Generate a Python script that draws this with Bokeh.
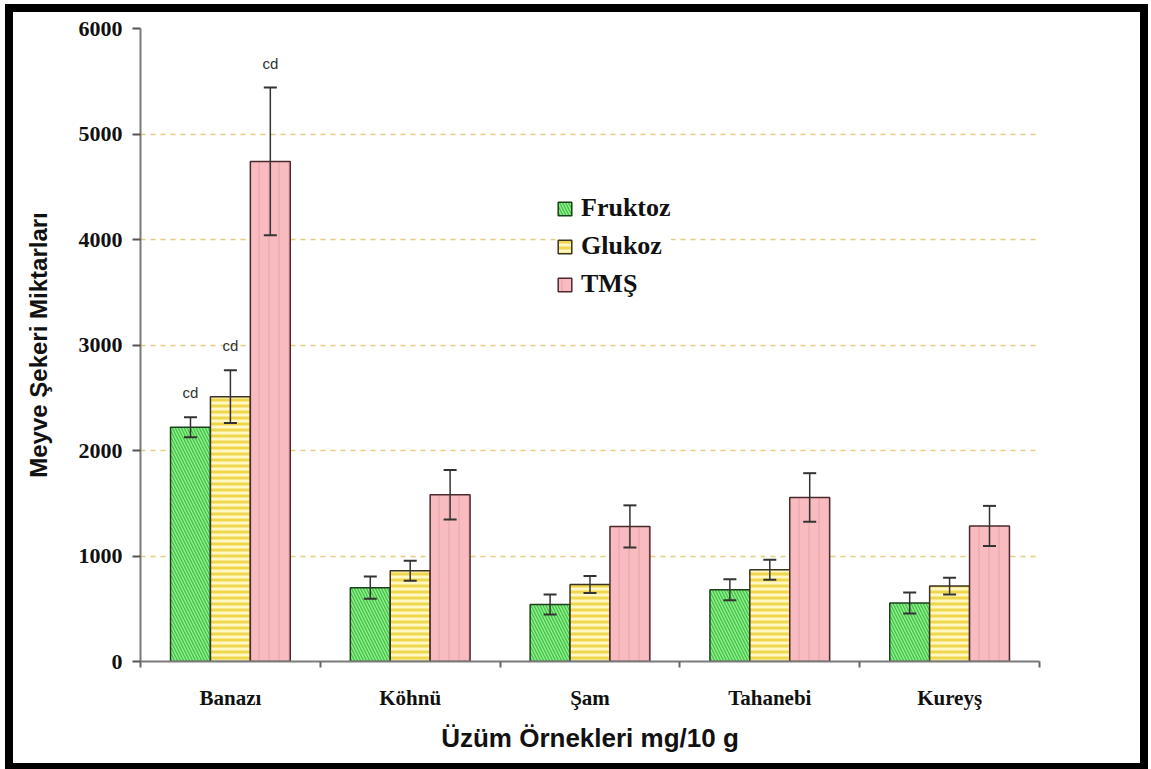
from bokeh.plotting import figure
from bokeh.models import (Range1d, LinearAxis, FixedTicker,
                          Whisker, TeeHead, ColumnDataSource, Legend, LegendItem, Grid)
from bokeh.transform import dodge
from bokeh.core.properties import value
from bokeh.embed import file_html
from bokeh.resources import INLINE

# ---- data ----
categories = ["Banazı", "Köhnü", "Şam", "Tahanebi", "Kureyş"]
series = ["Fruktoz", "Glukoz", "TMŞ"]
fruktoz = [2220, 700, 540, 680, 555]
fruktoz_err = [95, 105, 95, 100, 100]
glukoz = [2510, 860, 730, 870, 715]
glukoz_err = [250, 95, 80, 95, 80]
tms = [4740, 1580, 1280, 1555, 1285]
tms_err = [700, 235, 200, 230, 190]
letter_cat = ["Banazı", "Banazı", "Banazı"]
letter_series = ["Fruktoz", "Glukoz", "TMŞ"]
letter_text = ["cd", "cd", "cd"]
y_ticks = [0, 1000, 2000, 3000, 4000, 5000, 6000]

n = len(categories)
centers = [i + 0.5 for i in range(n)]
BAR_W = 0.222
offsets = {"Fruktoz": -BAR_W, "Glukoz": 0.0, "TMŞ": BAR_W}
styles = {
    "Fruktoz": dict(fill_color="#8ef08e", hatch_pattern="left_diagonal_line", hatch_color="#44c044",
                    hatch_scale=6, hatch_weight=1.3, line_color="#1c3f1c"),
    "Glukoz": dict(fill_color="#fff8c4", hatch_pattern="horizontal_line", hatch_color="#f0d64c",
                   hatch_scale=6, hatch_weight=3, line_color="#3a3320"),
    "TMŞ": dict(fill_color="#f8bcc0", hatch_pattern="vertical_line", hatch_color="#efaab0",
                hatch_scale=10, hatch_weight=1.5, line_color="#4a2a2c"),
}
values = {"Fruktoz": (fruktoz, fruktoz_err), "Glukoz": (glukoz, glukoz_err), "TMŞ": (tms, tms_err)}

p = figure(x_range=Range1d(0, n), y_range=Range1d(0, 6000),
           width=1127, height=751, output_backend="svg", toolbar_location=None,
           x_axis_location=None, y_axis_location=None,
           min_border_left=127, min_border_right=117, min_border_top=16, min_border_bottom=118)
p.center = []
p.outline_line_color = None
p.background_fill_color = "white"
p.border_fill_color = "white"
p.styles = {"border": "8px solid black", "margin-left": "5px", "margin-top": "4px",
            "box-sizing": "content-box"}

# grid
grid = Grid(dimension=1, ticker=FixedTicker(ticks=y_ticks[1:]), grid_line_color="#d9b84a",
            grid_line_alpha=0.7, grid_line_dash="5 5", grid_line_width=1.5)
p.add_layout(grid, "center")

# y axis
yaxis = LinearAxis(ticker=FixedTicker(ticks=y_ticks), axis_label="Meyve Şekeri Miktarları")
yaxis.axis_line_color = "#7a7a7a"
yaxis.axis_line_width = 2
yaxis.major_tick_line_color = "#555555"
yaxis.major_tick_line_width = 2
yaxis.major_tick_out = 8
yaxis.major_tick_in = 0
yaxis.minor_tick_line_color = None
yaxis.major_label_text_font = "Liberation Serif"
yaxis.major_label_text_font_style = "bold"
yaxis.major_label_text_font_size = "22px"
yaxis.major_label_text_color = "#111111"
yaxis.major_label_standoff = 10
yaxis.axis_label_text_font = "Liberation Sans"
yaxis.axis_label_text_font_style = "bold"
yaxis.axis_label_text_font_size = "24px"
yaxis.axis_label_text_color = "#111111"
yaxis.axis_label_standoff = 24
p.add_layout(yaxis, "left")

# x boundary tick axis
bnd_ticks = list(range(n + 1))
bnd_axis = LinearAxis(ticker=FixedTicker(ticks=bnd_ticks),
                      major_label_overrides={t: "" for t in bnd_ticks})
bnd_axis.axis_line_color = "#7a7a7a"
bnd_axis.axis_line_width = 2
bnd_axis.major_tick_line_color = "#666666"
bnd_axis.major_tick_line_width = 2
bnd_axis.major_tick_out = 6
bnd_axis.major_tick_in = 0
bnd_axis.minor_tick_line_color = None
bnd_axis.major_label_text_font_size = "1px"
bnd_axis.major_label_standoff = 0
p.add_layout(bnd_axis, "below")

# category label axis
cat_axis = LinearAxis(ticker=FixedTicker(ticks=centers), axis_label="Üzüm Örnekleri mg/10 g",
                      major_label_overrides={c: name for c, name in zip(centers, categories)})
cat_axis.axis_line_color = None
cat_axis.major_tick_line_color = None
cat_axis.minor_tick_line_color = None
cat_axis.major_label_text_font = "Liberation Serif"
cat_axis.major_label_text_font_style = "bold"
cat_axis.major_label_text_font_size = "21px"
cat_axis.major_label_text_color = "#111111"
cat_axis.major_label_standoff = 12
cat_axis.axis_label_text_font = "Liberation Sans"
cat_axis.axis_label_text_font_style = "bold"
cat_axis.axis_label_text_font_size = "26px"
cat_axis.axis_label_text_color = "#111111"
cat_axis.axis_label_standoff = 10
p.add_layout(cat_axis, "below")

items = []
for s in series:
    vals, errs = values[s]
    src = ColumnDataSource(dict(pos=centers, val=vals,
                                upper=[v + e for v, e in zip(vals, errs)],
                                lower=[v - e for v, e in zip(vals, errs)]))
    r = p.vbar(x=dodge("pos", offsets[s]), top="val", width=BAR_W, source=src,
               line_width=1.5, **styles[s])
    items.append(LegendItem(label=s, renderers=[r]))
    w = Whisker(base=dodge("pos", offsets[s]), upper="upper", lower="lower",
                source=src, line_color="#333333", line_width=1.5, level="annotation",
                upper_head=TeeHead(size=13, line_color="#333333", line_width=2),
                lower_head=TeeHead(size=13, line_color="#333333", line_width=2))
    p.add_layout(w)

# significance letters
for s in series:
    idx = [k for k, ss in enumerate(letter_series) if ss == s]
    if not idx:
        continue
    vals, errs = values[s]
    ci = [categories.index(letter_cat[k]) for k in idx]
    sub = ColumnDataSource(dict(pos=[centers[i] for i in ci], top=[vals[i] + errs[i] for i in ci],
                                txt=[letter_text[k] for k in idx]))
    p.text(x=dodge("pos", offsets[s]), y="top", text="txt", source=sub,
           text_font=value("Liberation Sans"), text_font_size="15px", text_color="#333333",
           text_align="center", text_baseline="bottom", y_offset=-16)

legend = Legend(items=items, location=(416, 362))
legend.label_text_font = "Liberation Serif"
legend.label_text_font_style = "bold"
legend.label_text_font_size = "26px"
legend.label_text_color = "#111111"
legend.glyph_width = 17
legend.glyph_height = 17
legend.label_height = 24
legend.label_standoff = 8
legend.spacing = 8
legend.padding = 18
legend.border_line_color = None
legend.background_fill_color = "white"
legend.background_fill_alpha = 1.0
p.add_layout(legend, "center")

open("out.html", "w").write(file_html(p, INLINE))
